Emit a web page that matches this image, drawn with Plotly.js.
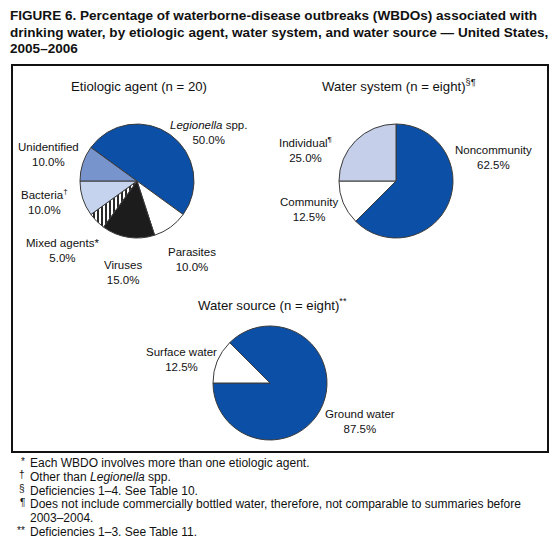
<!DOCTYPE html>
<html>
<head>
<meta charset="utf-8">
<script src="https://cdn.plot.ly/plotly-3.0.1.min.js"></script>
<style>
  body { margin: 0; background: #fff; }
  #graph { width: 560px; height: 548px; }
</style>
</head>
<body>
<div id="graph"></div>
<script>
/* ----- Data ------- */
var agentLabels = ['<i>Legionella</i> spp.', 'Parasites', 'Viruses', 'Mixed agents*', 'Bacteria<sup>†</sup>', 'Unidentified'];
var agentValues = [50.0, 10.0, 15.0, 5.0, 10.0, 10.0];

var systemLabels = ['Noncommunity', 'Community', 'Individual<sup>¶</sup>'];
var systemValues = [62.5, 12.5, 25.0];

var sourceLabels = ['Ground water', 'Surface water'];
var sourceValues = [87.5, 12.5];

var footMarks = ['*', '†', '§', '¶', '', '**'];
var footTexts = [
    'Each WBDO involves more than one etiologic agent.',
    'Other than <i>Legionella</i> spp.',
    'Deficiencies 1–4. See Table 10.',
    'Does not include commercially bottled water, therefore, not comparable to summaries before',
    '2003–2004.',
    'Deficiencies 1–3. See Table 11.'
];

/* ----- Layout helpers (pixel -> paper) ------- */
const W = 560, H = 548;
function px(x) { return x / W; }
function py(y) { return 1 - y / H; }

function domainFor(cx, cy, r) {
    return { x: [px(cx - r), px(cx + r)], y: [py(cy + r), py(cy - r)] };
}

var FONT = 'Liberation Sans, Arial, sans-serif';
var BLUE = '#0b4fa6';
var EDGE = '#3a3a3a';

/* ----- Traces ------- */
var agentPie = {
    type: 'pie',
    values: agentValues,
    labels: agentLabels,
    sort: false,
    direction: 'clockwise',
    rotation: -54,
    textinfo: 'none',
    hoverinfo: 'none',
    domain: domainFor(137, 181, 57),
    marker: {
        colors: [BLUE, '#ffffff', '#1c1c1c', '#ffffff', '#c6d3ef', '#7894cd'],
        line: { color: EDGE, width: 1 },
        pattern: {
            shape: ['', '', '', '|', '', ''],
            fgcolor: '#111111',
            bgcolor: '#ffffff',
            size: 4,
            solidity: 0.45
        }
    }
};

var systemPie = {
    type: 'pie',
    values: systemValues,
    labels: systemLabels,
    sort: false,
    direction: 'clockwise',
    rotation: 0,
    textinfo: 'none',
    hoverinfo: 'none',
    domain: domainFor(396, 181, 57),
    marker: {
        colors: [BLUE, '#ffffff', '#c5cfe9'],
        line: { color: EDGE, width: 1 }
    }
};

var sourcePie = {
    type: 'pie',
    values: sourceValues,
    labels: sourceLabels,
    sort: false,
    direction: 'clockwise',
    rotation: -45,
    textinfo: 'none',
    hoverinfo: 'none',
    domain: domainFor(270, 383, 57),
    marker: {
        colors: [BLUE, '#ffffff'],
        line: { color: EDGE, width: 1 }
    }
};

/* ----- Annotations ------- */
var annotations = [];

function addText(text, x, y, size, opts) {
    var a = {
        text: text,
        x: px(x), y: py(y),
        xref: 'paper', yref: 'paper',
        showarrow: false,
        xanchor: 'center', yanchor: 'middle',
        font: { family: FONT, size: size, color: '#111' }
    };
    Object.assign(a, opts || {});
    annotations.push(a);
}

// chart title, three lines
var titleLines = [
    'FIGURE 6. Percentage of waterborne-disease outbreaks (WBDOs) associated with',
    'drinking water, by etiologic agent, water system, and water source — United States,',
    '2005–2006'
];
titleLines.forEach(function(t, i) {
    addText('<b>' + t + '</b>', 8, 16 + i * 16, 13.55, { xanchor: 'left' });
});

// pie headings
addText('Etiologic agent (n = 20)', 139, 87, 13.2);
addText('Water system (n = eight)<sup>§¶</sup>', 399, 85, 13.2);
addText('Water source (n = eight)<sup>**</sup>', 272, 304, 13.2);

// slice labels: name on one line, percent below
var agentPos = [[208, 125], [192, 252], [123, 265], [62, 243], [44, 195], [48, 147]];
var systemPos = [[493, 150], [309, 203], [305, 143]];
var sourcePos = [[360, 414], [181, 352]];

function addSliceLabels(labels, values, pos) {
    labels.forEach(function(lab, i) {
        addText(lab + '<br>' + values[i].toFixed(1) + '%', pos[i][0], pos[i][1] + 7, 11.5,
            { align: 'center' });
    });
}
addSliceLabels(agentLabels, agentValues, agentPos);
addSliceLabels(systemLabels, systemValues, systemPos);
addSliceLabels(sourceLabels, sourceValues, sourcePos);

// footnotes
footTexts.forEach(function(t, i) {
    var y = 463 + i * 13.8;
    if (footMarks[i]) {
        addText(footMarks[i], 27, y, 10, { xanchor: 'right', yshift: 2 });
    }
    addText(t, 28, y, 12, { xanchor: 'left' });
});

var layout = {
    width: W,
    height: H,
    margin: { l: 0, r: 0, t: 0, b: 0 },
    paper_bgcolor: '#ffffff',
    showlegend: false,
    font: { family: FONT },
    annotations: annotations,
    shapes: [{
        type: 'rect',
        xref: 'paper', yref: 'paper',
        x0: px(12), x1: px(548),
        y0: py(452), y1: py(65),
        line: { color: '#111', width: 2 }
    }]
};

graph = document.getElementById('graph');
Plotly.newPlot(graph, [agentPie, systemPie, sourcePie], layout, { staticPlot: true });
</script>
</body>
</html>
